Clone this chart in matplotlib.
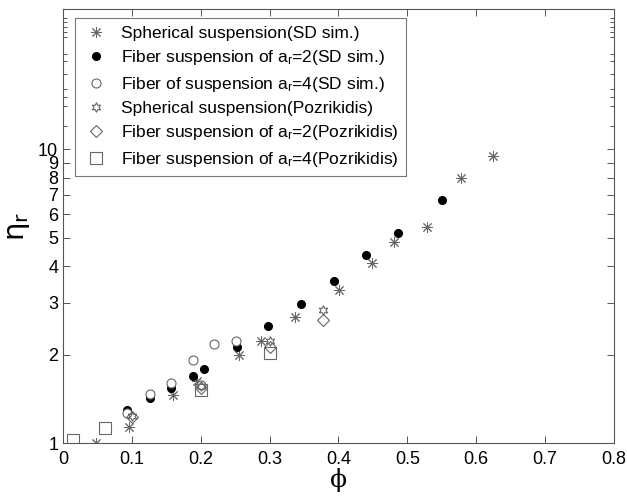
import matplotlib
matplotlib.use("Agg")
import matplotlib.pyplot as plt

plt.rcParams['font.family'] = ['Liberation Sans', 'DejaVu Sans']
plt.rcParams['mathtext.fontset'] = 'custom'
plt.rcParams['mathtext.rm'] = 'Liberation Sans'
plt.rcParams['mathtext.it'] = 'Liberation Sans:italic'

# Spherical suspension (SD sim.)
sph_sd_x = [0.0475, 0.096, 0.160, 0.195, 0.2554, 0.288, 0.337, 0.401, 0.449, 0.481, 0.529, 0.578, 0.625]
sph_sd_y = [1.00, 1.13, 1.457, 1.62, 1.99, 2.23, 2.68, 3.32, 4.09, 4.85, 5.43, 7.97, 9.51]
# Fiber suspension ar=2 (SD sim.)
f2_sd_x = [0.0935, 0.126, 0.157, 0.1885, 0.2045, 0.252, 0.2975, 0.3455, 0.393, 0.440, 0.487, 0.550]
f2_sd_y = [1.295, 1.42, 1.535, 1.69, 1.785, 2.13, 2.50, 2.98, 3.55, 4.35, 5.18, 6.69]
# Fiber suspension ar=4 (SD sim.)
f4_sd_x = [0.0926, 0.1264, 0.157, 0.1885, 0.200, 0.220, 0.2515]
f4_sd_y = [1.265, 1.47, 1.60, 1.92, 1.58, 2.17, 2.22]
# Spherical suspension (Pozrikidis)
sph_p_x = [0.100, 0.200, 0.300, 0.378]
sph_p_y = [1.235, 1.56, 2.22, 2.83]
# Fiber ar=2 (Pozrikidis)
f2_p_x = [0.100, 0.200, 0.300, 0.378]
f2_p_y = [1.23, 1.54, 2.12, 2.63]
# Fiber ar=4 (Pozrikidis)
f4_p_x = [0.015, 0.0615, 0.200, 0.300]
f4_p_y = [1.02, 1.128, 1.52, 2.03]

labels = ['Spherical suspension(SD sim.)',
          r'Fiber suspension of a$_\mathregular{r}$=2(SD sim.)',
          r'Fiber of suspension a$_\mathregular{r}$=4(SD sim.)',
          'Spherical suspension(Pozrikidis)',
          r'Fiber suspension of a$_\mathregular{r}$=2(Pozrikidis)',
          r'Fiber suspension of a$_\mathregular{r}$=4(Pozrikidis)']

yticks = [1, 2, 3, 4, 5, 6, 7, 8, 9, 10]
xticks = [0, 0.1, 0.2, 0.3, 0.4, 0.5, 0.6, 0.7, 0.8]

fig = plt.figure(figsize=(6.27, 4.98), dpi=100)
ax = fig.add_axes([0.1005, 0.1104, 0.8785, 0.8716])

gray = '#666666'
ax.plot(sph_sd_x, sph_sd_y, linestyle='none', marker=(8, 2, 0), ms=8, mew=0.7,
        color=gray, label=labels[0])
ax.plot(f2_sd_x, f2_sd_y, linestyle='none', marker='o', ms=5.5, color='black',
        label=labels[1])
ax.plot(f4_sd_x, f4_sd_y, linestyle='none', marker='o', ms=6.5, mfc='white', mec=gray,
        mew=0.8, label=labels[2])
ax.plot(sph_p_x, sph_p_y, linestyle='none', marker=(6, 1, 0), ms=7, mfc='none', mec=gray,
        mew=0.8, label=labels[3])
ax.plot(f2_p_x, f2_p_y, linestyle='none', marker='D', ms=6, mfc='none', mec=gray,
        mew=0.8, label=labels[4])
ax.plot(f4_p_x, f4_p_y, linestyle='none', marker='s', ms=8, mfc='none', mec=gray,
        mew=0.8, label=labels[5])

ax.set_yscale('log')
ax.set_xlim(0, 0.8)
ax.set_ylim(1, 30)
ax.set_yticks(yticks)
ax.set_yticklabels([str(v) for v in yticks])
ax.set_yticks([12, 14, 15, 16, 18, 20, 21, 24, 25, 26, 27, 28], minor=True)
ax.yaxis.set_minor_formatter(matplotlib.ticker.NullFormatter())
ax.set_xticks(xticks)
ax.set_xticklabels(['0', '0.1', '0.2', '0.3', '0.4', '0.5', '0.6', '0.7', '0.8'])

for s in ax.spines.values():
    s.set_color('#555555')
    s.set_linewidth(0.8)
ax.tick_params(which='both', direction='in', top=True, right=True, colors='#555555',
               labelcolor='black', labelsize=13, width=0.7)
ax.tick_params(which='major', length=5)
ax.tick_params(which='minor', length=3)
ax.tick_params(axis='x', pad=6)

ax.set_xlabel('ϕ', fontsize=18, family=['DejaVu Serif'], labelpad=0)
ax.set_ylabel(r'η$_\mathregular{r}$', fontsize=21, labelpad=4, family=['DejaVu Sans'])

leg = ax.legend(loc='upper left', bbox_to_anchor=(0.022, 0.979), borderaxespad=0,
                fontsize=12.5, frameon=True, fancybox=False, handletextpad=0.7,
                labelspacing=0.42, borderpad=0.45, handlelength=1.5)
leg.get_frame().set_edgecolor('#555555')
leg.get_frame().set_linewidth(0.8)

fig.savefig('out.png', dpi=100)
